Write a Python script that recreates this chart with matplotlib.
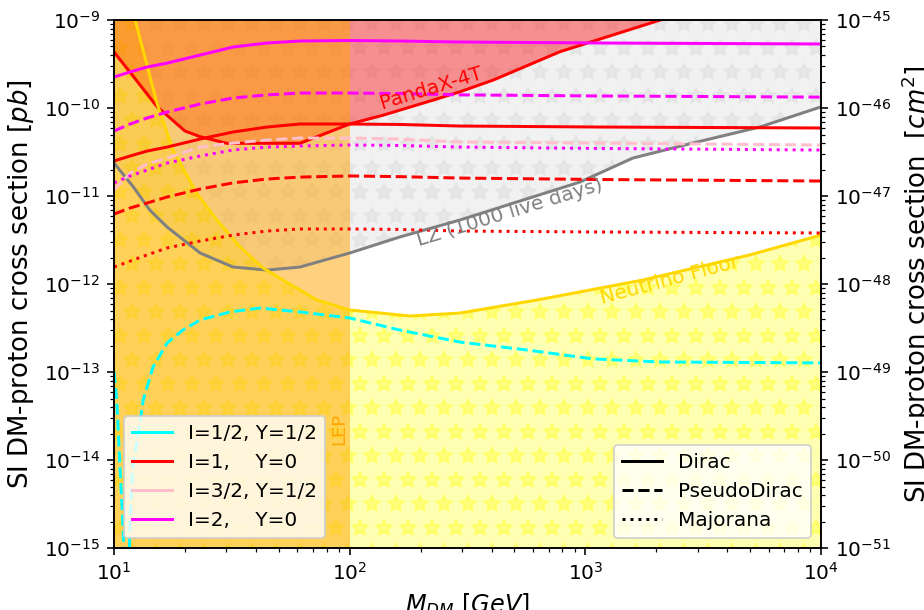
import numpy as np
import matplotlib
matplotlib.use('Agg')
import matplotlib.pyplot as plt

# DM mass grid [GeV] for the model curves
mass = [10, 11.7, 13.8, 16.8, 23.2, 32, 44.6, 61.5, 100, 163, 294, 1150, 10000]

# SI DM-proton cross sections [pb]
i2_dirac = [2.25e-10, 2.57e-10, 2.92e-10, 3.24e-10, 4.0e-10, 4.93e-10, 5.48e-10, 5.77e-10, 5.85e-10, 5.77e-10, 5.62e-10, 5.48e-10, 5.34e-10]
i2_pseudo = [5.48e-11, 6.58e-11, 7.69e-11, 9.0e-11, 1.11e-10, 1.30e-10, 1.41e-10, 1.48e-10, 1.48e-10, 1.46e-10, 1.41e-10, 1.37e-10, 1.33e-10]
i2_major = [1.41e-11, 1.69e-11, 1.97e-11, 2.37e-11, 2.85e-11, 3.33e-11, 3.6e-11, 3.7e-11, 3.8e-11, 3.75e-11, 3.6e-11, 3.47e-11, 3.33e-11]
i1_dirac = [2.5e-11, 2.85e-11, 3.24e-11, 3.6e-11, 4.44e-11, 5.34e-11, 6.08e-11, 6.58e-11, 6.58e-11, 6.5e-11, 6.24e-11, 6.08e-11, 5.93e-11]
i1_pseudo = [6.24e-12, 7.31e-12, 8.32e-12, 9.75e-12, 1.2e-11, 1.41e-11, 1.56e-11, 1.64e-11, 1.69e-11, 1.66e-11, 1.60e-11, 1.54e-11, 1.48e-11]
i1_major = [1.56e-12, 1.82e-12, 2.14e-12, 2.57e-12, 3.08e-12, 3.6e-12, 4.0e-12, 4.22e-12, 4.22e-12, 4.17e-12, 4.0e-12, 3.9e-12, 3.8e-12]
i32_pseudo = [1.17e-11, 1.82e-11, 2.31e-11, 2.70e-11, 3.6e-11, 4.0e-11, 4.33e-11, 4.56e-11, 4.56e-11, 4.44e-11, 4.11e-11, 4.0e-11, 3.8e-11]

# I=1/2 pseudo-Dirac has a cancellation near 11 GeV
cyan_mass = [10, 10.27, 10.6, 10.95, 11.2, 11.45, 11.69, 12.0, 12.68, 13.3, 14.64, 16.8, 19.6, 23.2, 31.0, 41.6, 61.5, 100, 163, 294, 565, 1077, 2073, 10000]
i12_pseudo = [1.0e-13, 4.8e-14, 8.3e-15, 1.48e-15, 1e-16, 1e-16, 2.25e-15, 8.3e-15, 2.03e-14, 4.8e-14, 1.14e-13, 2.14e-13, 3.0e-13, 3.9e-13, 4.81e-13, 5.34e-13, 4.81e-13, 4.11e-13, 3.0e-13, 2.19e-13, 1.78e-13, 1.41e-13, 1.30e-13, 1.27e-13]

# experimental limits
panda_mass = [10, 12.1, 15.2, 20.0, 23.2, 30.1, 61.5, 100, 139, 226, 294, 407, 780, 1972, 10000]
panda_xs = [4.33e-10, 2.27e-10, 1.04e-10, 5.48e-11, 4.72e-11, 3.97e-11, 3.97e-11, 6.58e-11, 8.3e-11, 1.23e-10, 1.53e-10, 2.08e-10, 4.36e-10, 9.56e-10, 3.7e-9]

lz_mass = [10, 12.1, 14.2, 16.8, 23.2, 32, 44.6, 61.5, 100, 163, 294, 948, 1592, 2860, 5500, 10000]
lz_xs = [2.37e-11, 1.26e-11, 6.9e-12, 4.44e-12, 2.25e-12, 1.56e-12, 1.44e-12, 1.56e-12, 2.25e-12, 3.42e-12, 5.34e-12, 1.44e-11, 2.70e-11, 4.0e-11, 6.08e-11, 1.03e-10]

nu_mass = [10, 11.5, 12.3, 15.2, 17.8, 22.4, 27.3, 34.3, 42.9, 54.0, 72.4, 100, 180, 294, 623, 1754, 4990, 10000]
nu_xs = [1e-8, 2.0e-9, 1e-9, 1.14e-10, 3.33e-11, 1.08e-11, 5.34e-12, 2.63e-12, 1.52e-12, 1.05e-12, 6.6e-13, 5.07e-13, 4.33e-13, 4.68e-13, 6.58e-13, 1.11e-12, 2.14e-12, 3.6e-12]

lep_limit = 100
xlim = [10, 1e4]
ylim = [1e-15, 1e-9]
pb_to_cm2 = 1e-36

if __name__ == '__main__':
    plt.rcParams['font.size'] = 10
    fig = plt.figure(figsize=(924 / 144, 610 / 144), dpi=144)
    ax = fig.add_axes([0.1234, 0.1016, 0.7651, 0.8656])

    # excluded / floor regions
    ax.fill_between(lz_mass, lz_xs, 1, color='lightgrey', alpha=0.3, hatch='*', lw=0)
    ax.fill_between(nu_mass, 1e-20, nu_xs, color='yellow', alpha=0.3, hatch='*', lw=0)
    ax.fill_between(panda_mass, panda_xs, 1, color='red', alpha=0.4, lw=0)
    ax.axvspan(xlim[0], lep_limit, color='orange', alpha=0.5, lw=0)

    ax.plot(panda_mass, panda_xs, color='red')
    ax.plot(lz_mass, lz_xs, color='grey')
    ax.plot(nu_mass, nu_xs, color='gold')

    # models
    ax.plot(cyan_mass, i12_pseudo, color='cyan', ls='--')
    ax.plot(mass, i1_dirac, color='red', ls='-')
    ax.plot(mass, i1_pseudo, color='red', ls='--')
    ax.plot(mass, i1_major, color='red', ls=':')
    ax.plot(mass, i32_pseudo, color='pink', ls='--')
    ax.plot(mass, i2_dirac, color='magenta', ls='-')
    ax.plot(mass, i2_pseudo, color='magenta', ls='--')
    ax.plot(mass, i2_major, color='magenta', ls=':')

    ax.text(223, 1.69e-10, 'PandaX-4T', color='red', rotation=17, ha='center', va='center')
    ax.text(479, 6.4e-12, 'LZ (1000 live days)', color='grey', rotation=17, ha='center', va='center')
    ax.text(2286, 1.11e-12, 'Neutrino Floor', color='gold', rotation=15, ha='center', va='center')
    ax.text(90, 2.25e-14, 'LEP', color='orange', rotation=90, ha='center', va='center', fontsize=9)

    ax.set_xscale('log')
    ax.set_yscale('log')
    ax.set_xlim(xlim)
    ax.set_ylim(ylim)
    ax.set_xlabel(r'$M_{DM}\ [GeV]$', fontsize=12)
    ax.set_ylabel(r'SI DM-proton cross section $[pb]$', fontsize=13)

    # legends
    h1 = [plt.Line2D([], [], color=c) for c in ['cyan', 'red', 'pink', 'magenta']]
    leg1 = ax.legend(h1, ['I=1/2, Y=1/2', 'I=1,    Y=0', 'I=3/2, Y=1/2', 'I=2,    Y=0'], loc='lower left')
    ax.add_artist(leg1)
    h2 = [plt.Line2D([], [], color='black', ls=s) for s in ['-', '--', ':']]
    ax.legend(h2, ['Dirac', 'PseudoDirac', 'Majorana'], loc='lower right')

    ax2 = ax.twinx()
    ax2.set_yscale('log')
    ax2.set_ylim(ylim[0] * pb_to_cm2, ylim[1] * pb_to_cm2)
    ax2.set_ylabel(r'SI DM-proton cross section  $[cm^2]$', fontsize=13)

    fig.savefig('out.png', dpi=144)
